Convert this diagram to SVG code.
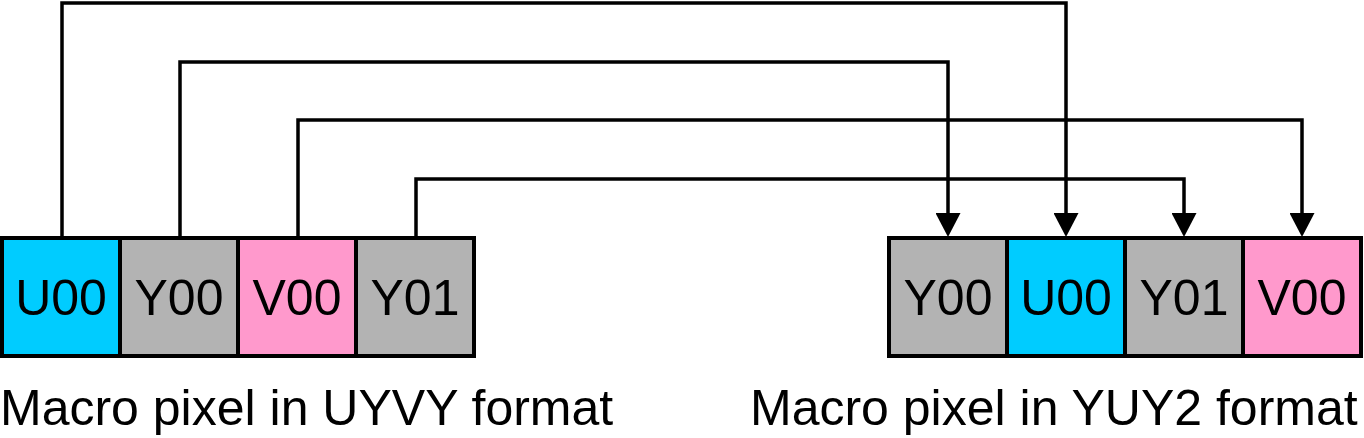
<svg xmlns="http://www.w3.org/2000/svg" width="1364" height="438" viewBox="0 0 1364 438">
  <style>
    .box { stroke: #000; stroke-width: 4; }
    .u { fill: #00CCFF; }
    .y { fill: #B3B3B3; }
    .v { fill: #FF99CC; }
    .lbl { font-family: "Liberation Sans", Arial, sans-serif; font-size: 50px; fill: #000; text-anchor: middle; }
    .cap { font-family: "Liberation Sans", Arial, sans-serif; font-size: 50px; fill: #000; }
    .conn { fill: none; stroke: #000; stroke-width: 3.5; }
  </style>
  <defs>
    <marker id="arrow" markerUnits="userSpaceOnUse" viewBox="0 0 24 25" refX="0" refY="12.5" markerWidth="24" markerHeight="25" orient="auto">
      <path d="M0,0 L24,12.5 L0,25 Z" fill="#000"/>
    </marker>
  </defs>
  <rect width="1364" height="438" fill="#fff"/>
  <g id="connectors">
    <path class="conn" d="M62,238 V3 H1066 V213" marker-end="url(#arrow)"/>
    <path class="conn" d="M180,238 V62 H948 V213" marker-end="url(#arrow)"/>
    <path class="conn" d="M298,238 V120 H1302 V213" marker-end="url(#arrow)"/>
    <path class="conn" d="M416,238 V179 H1184 V213" marker-end="url(#arrow)"/>
  </g>
  <g id="uyvy-u00"><rect class="box u" x="2" y="238" width="118" height="118"/><text class="lbl" x="61" y="315">U00</text></g>
  <g id="uyvy-y00"><rect class="box y" x="120" y="238" width="118" height="118"/><text class="lbl" x="179" y="315">Y00</text></g>
  <g id="uyvy-v00"><rect class="box v" x="238" y="238" width="118" height="118"/><text class="lbl" x="297" y="315">V00</text></g>
  <g id="uyvy-y01"><rect class="box y" x="356" y="238" width="118" height="118"/><text class="lbl" x="415" y="315">Y01</text></g>
  <g id="yuy2-y00"><rect class="box y" x="889" y="238" width="118" height="118"/><text class="lbl" x="948" y="315">Y00</text></g>
  <g id="yuy2-u00"><rect class="box u" x="1007" y="238" width="118" height="118"/><text class="lbl" x="1066" y="315">U00</text></g>
  <g id="yuy2-y01"><rect class="box y" x="1125" y="238" width="118" height="118"/><text class="lbl" x="1184" y="315">Y01</text></g>
  <g id="yuy2-v00"><rect class="box v" x="1243" y="238" width="118" height="118"/><text class="lbl" x="1302" y="315">V00</text></g>
  <g id="caption-uyvy"><text class="cap" x="0" y="425">Macro pixel in UYVY format</text></g>
  <g id="caption-yuy2"><text class="cap" x="750" y="425">Macro pixel in YUY2 format</text></g>
</svg>
